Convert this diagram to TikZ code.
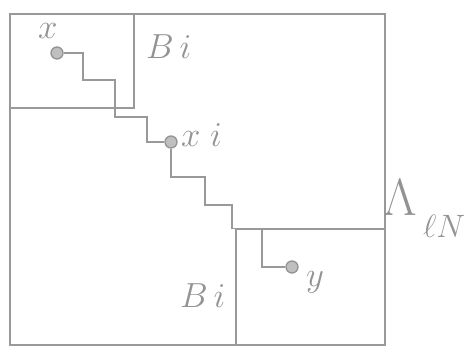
\documentclass[tikz,border=0pt]{standalone}
\usepackage{graphicx}
\usetikzlibrary{positioning}
\newcommand{\bigsketch}[2]{\scalebox{#1}{\Huge #2}}
\begin{document}
\begin{tikzpicture}[
    x=1pt, y=-1pt,
    pencil/.style={draw=gray!80, line width=1.2pt},
    region/.style={rectangle, draw=gray!80, line width=1.2pt, inner sep=0pt},
    pin/.style={circle, draw=gray!85, fill=gray!50, line width=1.3pt, inner sep=0pt, minimum size=12pt},
    lbl/.style={text=gray!85, inner sep=0pt, anchor=base west}
]
\useasboundingbox (0,0) rectangle (476,351);

% regions
\node[region, minimum width=375, minimum height=331] (outer) at (197.5,179.5) {};
\node[region, minimum width=124, minimum height=94] (Btop) at (72,61) {};
\node[region, minimum width=149, minimum height=116] (Bbot) at (310.5,287) {};

% points
\node[pin] (px) at (57,53) {};
\node[pin] (pxi) at (171,142) {};
\node[pin] (py) at (292,267) {};
\coordinate (ytap) at (262,229);

% labels
\node[lbl] (lx) at (38,38) {\bigsketch{1.4}{$x$}};
\node[lbl] (lBtop) at (146,58) {\bigsketch{1.4}{$B\,i$}};
\node[lbl] (lxi) at (181,146) {\bigsketch{1.4}{$x\;i$}};
\node[lbl] (lBbot) at (180,307) {\bigsketch{1.4}{$B\,i$}};
\node[lbl] (ly) at (306,286) {\bigsketch{1.4}{$y$}};
\node[lbl] (llam) at (383,215) {\bigsketch{2.1}{$\Lambda$}};
\node[lbl] (lsub) at (423,237) {\bigsketch{1.3}{$\ell N$}};

% staircase paths
\draw[pencil] (px.east) -- (83,53) -- (83,80) -- (115,80) -- (115,117) -- (147,117) -- (147,142) -- (pxi.west);
\draw[pencil] (pxi.south) -- (171,177) -- (205,177) -- (205,205) -- (232,205) |- (Bbot.north west);
\draw[pencil] (ytap) |- (py.west);

\end{tikzpicture}
\end{document}
